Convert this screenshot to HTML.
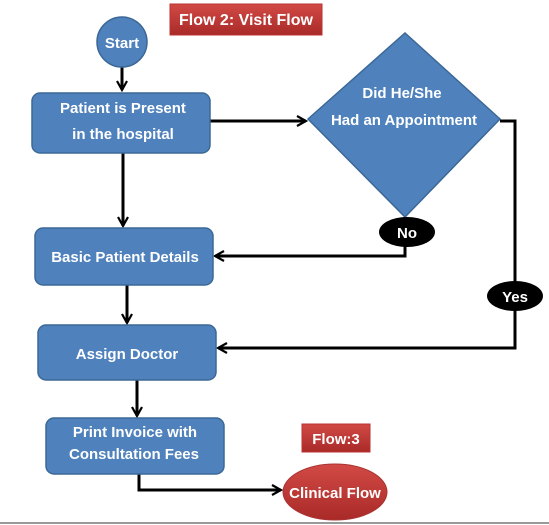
<!DOCTYPE html>
<html><head><style>
body{margin:0;background:#fff;}
svg{display:block;font-family:"Liberation Sans",sans-serif;font-weight:bold;}
</style></head><body>
<svg width="549" height="525" viewBox="0 0 549 525" xmlns="http://www.w3.org/2000/svg">
<defs>
<linearGradient id="r" x1="0" y1="0" x2="0" y2="1"><stop offset="0" stop-color="#d24a45"/><stop offset="1" stop-color="#a92a28"/></linearGradient>
<marker id="a" markerWidth="12" markerHeight="12" refX="10" refY="6" orient="auto" markerUnits="userSpaceOnUse"><path d="M1,1 L10,6 L1,11" fill="none" stroke="#000" stroke-width="2.2"/></marker>
</defs>
<g stroke="#000" stroke-width="3" fill="none">
<line x1="122" y1="67" x2="122" y2="90" marker-end="url(#a)"/>
<line x1="210" y1="121" x2="306" y2="121" marker-end="url(#a)"/>
<line x1="123" y1="153" x2="123" y2="226" marker-end="url(#a)"/>
<polyline points="405,217 405,256 215,256" marker-end="url(#a)"/>
<polyline points="500,121 515,121 515,348 218,348" marker-end="url(#a)"/>
<line x1="127" y1="285" x2="127" y2="323" marker-end="url(#a)"/>
<line x1="137" y1="380" x2="137" y2="416" marker-end="url(#a)"/>
<polyline points="139,474 139,490 281,490" marker-end="url(#a)"/>
</g>
<rect x="170" y="4" width="152" height="31" fill="url(#r)" stroke="#b33" stroke-width="1"/>
<text x="246" y="25" fill="#fff" font-size="16" text-anchor="middle">Flow 2: Visit Flow</text>
<g fill="#4f81bd" stroke="#3b6896" stroke-width="1.5">
<ellipse cx="122" cy="42" rx="25" ry="25"/>
<rect x="32" y="93" width="178" height="60" rx="8"/>
<polygon points="308,119 405,33 500,119 405,217"/>
<rect x="35" y="228" width="178" height="57" rx="8"/>
<rect x="38" y="325" width="178" height="55" rx="8"/>
<rect x="46" y="418" width="178" height="56" rx="8"/>
</g>
<g fill="#fff" font-size="15" text-anchor="middle">
<text x="122" y="48">Start</text>
<text x="123" y="113">Patient is Present</text>
<text x="123" y="139">in the hospital</text>
<text x="402" y="98">Did He/She</text>
<text x="404" y="125">Had an Appointment</text>
<text x="125" y="262">Basic Patient Details</text>
<text x="127" y="359">Assign Doctor</text>
<text x="135" y="437">Print Invoice with</text>
<text x="134" y="459">Consultation Fees</text>
</g>
<ellipse cx="407" cy="232" rx="28" ry="15" fill="#000"/>
<text x="407" y="238" fill="#fff" font-size="15" text-anchor="middle">No</text>
<ellipse cx="515" cy="296" rx="28" ry="15" fill="#000"/>
<text x="515" y="302" fill="#fff" font-size="15" text-anchor="middle">Yes</text>
<rect x="302" y="424" width="68" height="28" fill="url(#r)" stroke="#b33" stroke-width="1"/>
<text x="336" y="444" fill="#fff" font-size="15" text-anchor="middle">Flow:3</text>
<ellipse cx="335" cy="492" rx="52" ry="28" fill="url(#r)" stroke="#a33" stroke-width="1"/>
<text x="335" y="498" fill="#fff" font-size="15" text-anchor="middle">Clinical Flow</text>
<line x1="0" y1="523" x2="549" y2="523" stroke="#999" stroke-width="2"/>
</svg>
</body></html>
